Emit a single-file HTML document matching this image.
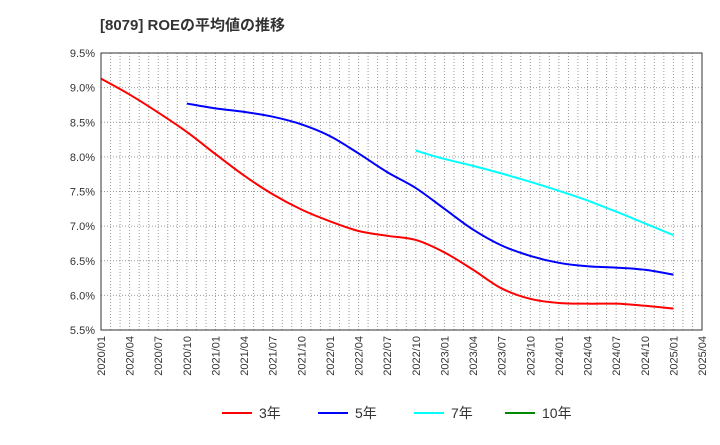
<!DOCTYPE html>
<html><head><meta charset="utf-8"><style>
body{margin:0;background:#fff;width:720px;height:440px;overflow:hidden;font-family:"Liberation Sans","Noto Sans CJK JP",sans-serif}
</style></head><body>
<svg id="c" width="720" height="440" xmlns="http://www.w3.org/2000/svg">
<text x="100" y="30" font-size="15" font-weight="bold" fill="#333" font-family="Liberation Sans, Noto Sans CJK JP, sans-serif">[8079]  ROEの平均値の推移</text>
<g id="grid"></g><g id="series"></g><g id="axes"></g><g id="legend"></g>
</svg>
<script>
const categories=["2020/01","2020/04","2020/07","2020/10","2021/01","2021/04","2021/07","2021/10","2022/01","2022/04","2022/07","2022/10","2023/01","2023/04","2023/07","2023/10","2024/01","2024/04","2024/07","2024/10","2025/01","2025/04"];
const yTicks=[5.5,6.0,6.5,7.0,7.5,8.0,8.5,9.0,9.5];
const s3=[9.13,8.90,8.64,8.36,8.04,7.73,7.46,7.24,7.07,6.93,6.86,6.80,6.62,6.37,6.10,5.95,5.89,5.88,5.88,5.85,5.81];
const s3Start=0;
const s5=[8.77,8.70,8.65,8.58,8.47,8.30,8.05,7.78,7.55,7.25,6.95,6.72,6.57,6.47,6.42,6.40,6.37,6.30];
const s5Start=3;
const s7=[8.09,7.97,7.87,7.76,7.64,7.51,7.37,7.21,7.04,6.87];
const s7Start=11;
const s10=[];
const L=101,R=702,T=53,B=330;
const NS="http://www.w3.org/2000/svg";
const x=i=>L+(R-L)*i/(categories.length-1);
const y=v=>B-(B-T)*(v-5.5)/(9.5-5.5);
function mk(tag,attrs,parent){const e=document.createElementNS(NS,tag);for(const k in attrs)e.setAttribute(k,attrs[k]);parent.appendChild(e);return e;}
const grid=document.getElementById('grid'),axes=document.getElementById('axes'),ser=document.getElementById('series'),leg=document.getElementById('legend');
for(let m=1;m<(categories.length-1)*3;m++){const gx=L+(R-L)*m/((categories.length-1)*3);
const g=mk('line',{x1:gx,x2:gx,y1:T,y2:B,stroke:'#999','stroke-dasharray':'1,2','stroke-width':1},grid);

}
yTicks.forEach(v=>{const g=mk('line',{x1:L,x2:R,y1:y(v),y2:y(v),stroke:'#999','stroke-dasharray':'1,2','stroke-width':1},grid);


const t=mk('text',{x:L-6,y:y(v)+4,'text-anchor':'end','font-size':11,fill:'#333'},axes);t.textContent=v.toFixed(1)+'%';

});
categories.forEach((c,i)=>{const t=mk('text',{transform:`translate(${x(i)+4},${B+6}) rotate(-90)`,'text-anchor':'end','font-size':11,fill:'#333'},axes);t.textContent=c;

});
const fr=mk('rect',{x:L,y:T,width:R-L,height:B-T,fill:'none',stroke:'#333','stroke-width':1},axes);


function path(vals,start){const p=vals.map((v,i)=>[x(start+i),y(v)]);if(p.length<2)return '';let d=`M${p[0][0]},${p[0][1]}`;
for(let i=0;i<p.length-1;i++){const p0=p[i-1]||p[i],p1=p[i],p2=p[i+1],p3=p[i+2]||p2;
d+=` C${p1[0]+(p2[0]-p0[0])/6},${p1[1]+(p2[1]-p0[1])/6} ${p2[0]-(p3[0]-p1[0])/6},${p2[1]-(p3[1]-p1[1])/6} ${p2[0]},${p2[1]}`;}return d;}
[[s3,s3Start,'#f00','line-3y'],[s5,s5Start,'#00f','line-5y'],[s7,s7Start,'#0ff','line-7y'],[s10,0,'#080','line-10y']].forEach(([v,s,c,n])=>{if(!v.length)return;
const e=mk('path',{d:path(v,s),fill:'none',stroke:c,'stroke-width':2},ser);

});
[['3年','#f00',222],['5年','#00f',318],['7年','#0ff',414],['10年','#080',505]].forEach(([t,c,lx])=>{
const g=mk('g',{},leg);


mk('line',{x1:lx,x2:lx+30,y1:413,y2:413,stroke:c,'stroke-width':2},g);
const tx=mk('text',{x:lx+37,y:418,'font-size':14,fill:'#333'},g);tx.textContent=t;});
</script>
</body></html>
